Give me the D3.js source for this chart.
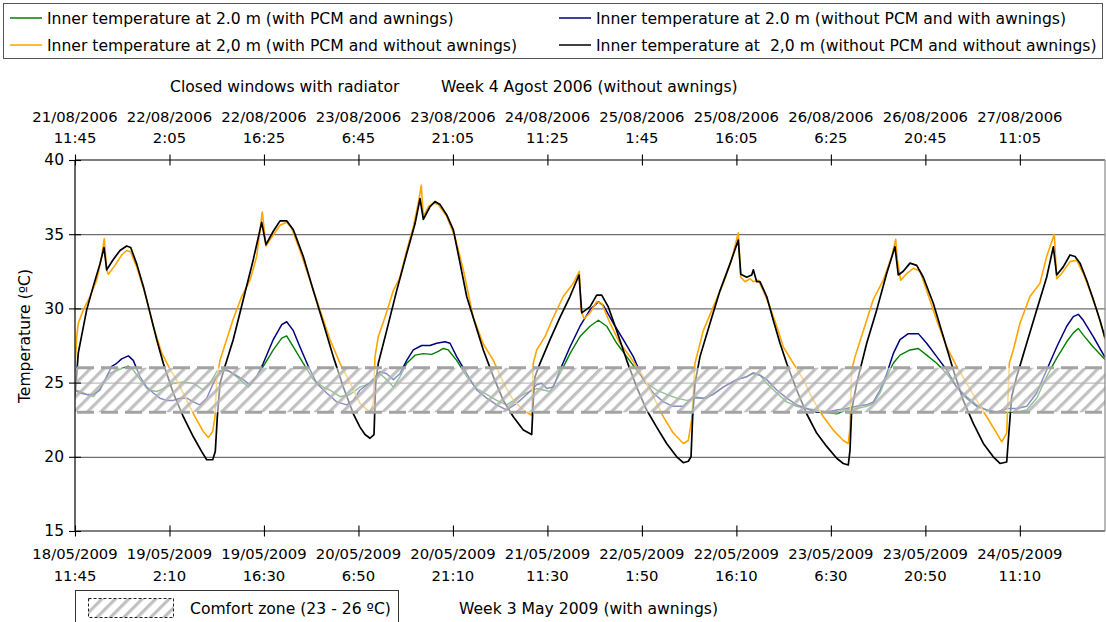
<!DOCTYPE html>
<html>
<head>
<meta charset="utf-8">
<script src="https://cdn.jsdelivr.net/npm/d3@7"></script>
<style>
  html, body { margin: 0; padding: 0; background: #fff; }
  svg { display: block; font-family: "DejaVu Sans", Verdana, sans-serif; }
</style>
</head>
<body>
<svg id="chart" width="1106" height="622"></svg>
<script>
// Time is in hours from the first sample; temperatures in ºC.

// Inner temperature at 2.0 m, with PCM and awnings
const pcmAwnings = [
  [0,24.5],[0.76,24.4],[1.77,24.2],[2.78,24.05],[3.79,24.6],[5.05,25.6],[6.07,25.75],[7.08,25.95],
  [8.09,26.1],[8.84,25.85],[9.86,25.2],[11.12,24.5],[12.39,24.4],[13.39,24.6],[14.91,24.95],[16.43,25.05],
  [17.95,24.95],[19.46,24.5],[20.48,24.95],[21.5,25.75],[22.5,25.85],[23.51,25.75],[25.03,25.2],[26.29,24.7],
  [27.56,25.4],[28.56,26.1],[30.08,27.2],[31.36,28.0],[32.11,28.15],[33.12,27.4],[34.63,26.3],[36.15,25.2],
  [37.67,24.7],[38.68,24.5],[40.2,24.05],[41.72,24.2],[43.23,24.7],[44.75,24.95],[46.27,25.6],[47.28,25.2],
  [48.29,24.7],[49.3,25.4],[50.32,26.3],[51.58,26.85],[52.84,26.95],[54.11,26.9],[55.11,27.1],[55.87,27.3],
  [56.63,27.2],[57.9,26.5],[59.42,25.4],[60.94,24.6],[62.45,24.2],[63.97,23.8],[65.49,23.5],[67.0,23.95],
  [68.52,24.3],[70.04,24.6],[71.04,24.5],[72.06,24.4],[73.57,25.6],[75.09,26.95],[76.61,28.1],[78.12,28.8],
  [79.39,29.2],[80.66,28.8],[82.18,27.65],[83.69,26.75],[85.2,25.85],[86.72,24.95],[88.24,24.5],[89.75,24.2],
  [91.28,23.95],[92.79,23.8],[94.31,23.95],[95.83,23.95],[97.34,24.4],[98.86,24.85],[100.38,25.2],[101.9,25.4],
  [102.9,25.6],[103.91,25.5],[104.93,24.95],[106.45,24.3],[107.96,23.7],[109.48,23.4],[110.99,23.25],[112.51,23.15],
  [114.03,23.0],[115.55,22.9],[117.07,23.15],[118.58,23.25],[120.1,23.4],[121.1,23.6],[122.12,24.3],[123.13,25.4],
  [124.13,26.3],[125.15,26.85],[126.67,27.2],[127.93,27.3],[129.2,26.85],[130.72,26.3],[132.23,25.6],[133.75,24.7],
  [135.27,24.05],[136.79,23.5],[138.3,23.15],[139.82,23.0],[141.34,23.0],[142.85,23.0],[144.37,23.15],[145.89,23.95],
  [147.4,25.4],[148.92,26.65],[150.44,27.75],[151.44,28.35],[152.2,28.65],[152.96,28.2],[154.47,27.4],[156.25,26.55]
];

// Inner temperature at 2,0 m, with PCM and without awnings
const pcmNoAwnings = [
  [0,26.1],[0.26,28.1],[0.5,29.0],[1.26,29.9],[2.28,30.8],[3.29,31.9],[4.05,33.5],[4.44,34.7],
  [4.81,32.6],[5.05,32.3],[6.07,32.9],[7.08,33.6],[7.84,33.9],[8.45,33.8],[9.36,32.8],[10.62,31.0],
  [11.88,28.8],[13.15,27.0],[14.41,25.9],[15.67,25.0],[16.94,23.8],[18.2,22.7],[19.46,21.7],[20.22,21.3],
  [20.89,21.7],[21.24,22.7],[21.5,25.2],[22.0,26.5],[23.01,27.9],[24.01,29.3],[25.29,30.8],[26.55,31.9],
  [27.56,33.5],[28.41,36.5],[28.97,34.2],[29.84,34.8],[31.1,35.6],[32.11,35.8],[32.87,35.4],[34.13,33.9],
  [35.65,31.9],[37.17,29.9],[38.68,27.9],[40.2,26.3],[41.72,25.0],[43.23,23.6],[44.75,23.0],[45.25,23.6],
  [45.51,26.75],[46.01,28.1],[47.03,29.4],[48.29,31.2],[49.3,32.1],[50.32,33.9],[51.32,35.5],[52.08,37.1],
  [52.53,38.3],[52.84,36.2],[53.6,36.85],[54.35,37.1],[55.11,37.0],[56.39,36.2],[57.65,34.8],[58.91,32.6],
  [60.42,29.4],[61.94,27.6],[63.46,26.5],[64.97,25.0],[66.49,23.8],[68.01,23.15],[69.28,22.8],[69.52,26.3],
  [70.04,27.2],[71.3,28.1],[72.56,29.4],[74.07,30.8],[75.59,31.7],[76.5,32.5],[76.76,29.9],[77.22,29.3],
  [78.12,29.7],[79.14,30.45],[79.9,30.35],[81.16,29.0],[82.68,27.65],[84.19,26.75],[86.21,25.4],[87.73,24.05],
  [89.25,22.7],[90.76,21.6],[92.28,20.9],[93.04,21.1],[93.55,22.5],[94.05,26.3],[95.31,28.5],[96.83,30.1],
  [98.35,31.7],[99.62,33.3],[100.62,35.1],[101.0,32.1],[101.64,31.8],[102.4,32.0],[102.9,31.8],[103.66,31.9],
  [104.41,31.2],[105.43,30.1],[106.45,28.8],[107.45,27.4],[108.97,26.3],[110.49,25.2],[112.0,23.8],[113.52,22.7],
  [115.03,21.8],[116.55,21.1],[117.31,20.9],[117.57,22.0],[117.82,25.85],[118.33,26.75],[119.59,28.5],[121.1,30.6],
  [122.62,31.9],[123.89,33.5],[124.5,34.65],[124.74,33.3],[125.25,31.9],[126.17,32.35],[127.17,32.7],[128.19,32.5],
  [129.2,31.2],[130.72,29.2],[132.23,27.4],[133.75,26.1],[135.27,24.95],[136.79,23.8],[138.3,22.7],[139.82,21.6],
  [140.58,21.0],[141.34,21.6],[141.73,26.3],[142.34,27.2],[143.35,29.0],[144.87,30.8],[146.39,31.7],[147.4,33.5],
  [148.56,35.0],[148.92,32.0],[149.68,32.35],[150.94,33.15],[151.95,33.25],[152.96,32.35],[153.97,31.2],[154.98,29.9],
  [155.99,28.4],[156.25,27.9]
];

// Inner temperature at 2.0 m, without PCM and with awnings
const noPcmAwnings = [
  [0,24.5],[0.76,24.3],[1.77,24.2],[2.78,24.2],[3.79,24.5],[4.81,25.4],[5.57,26.1],[6.33,26.3],
  [7.08,26.6],[8.09,26.8],[8.84,26.5],[9.86,25.4],[10.88,24.7],[11.88,24.3],[12.89,23.95],[13.91,23.8],
  [14.91,23.8],[15.93,23.95],[16.94,23.95],[17.95,23.7],[18.96,23.5],[19.98,23.95],[20.98,24.95],[22.0,25.75],
  [23.01,25.85],[24.01,25.6],[25.53,25.2],[26.55,24.85],[27.56,25.4],[28.56,26.3],[30.08,27.9],[31.36,28.9],
  [32.11,29.1],[33.12,28.5],[34.13,27.4],[35.39,26.1],[36.67,24.95],[38.18,24.3],[39.7,23.7],[41.22,23.5],
  [42.22,23.8],[43.23,24.5],[44.75,25.0],[46.27,25.75],[47.28,25.6],[48.29,25.2],[49.3,25.6],[50.32,26.5],
  [51.32,27.2],[52.59,27.5],[53.85,27.5],[54.87,27.65],[56.13,27.75],[56.89,27.65],[57.9,26.75],[59.42,25.6],
  [60.94,24.5],[62.45,23.95],[63.97,23.5],[65.49,23.15],[67.0,23.6],[68.52,24.2],[70.04,24.85],[70.8,24.95],
  [71.56,24.6],[72.56,24.7],[73.57,25.85],[75.09,27.4],[76.61,28.8],[78.12,29.9],[79.39,30.45],[80.14,30.2],
  [81.66,29.0],[83.18,27.9],[84.69,26.75],[86.21,25.2],[87.73,24.3],[89.25,23.7],[90.76,23.4],[92.28,23.4],
  [93.8,24.05],[95.31,23.95],[96.83,24.2],[98.35,24.7],[100.38,25.2],[101.9,25.4],[102.9,25.67],[103.91,25.5],
  [104.93,25.2],[106.45,24.5],[107.96,23.95],[109.48,23.5],[110.99,23.25],[112.51,23.0],[114.03,23.0],[115.55,23.15],
  [117.07,23.25],[118.58,23.4],[120.1,23.5],[121.1,23.7],[122.12,24.5],[123.13,25.6],[124.13,26.95],[125.15,27.9],
  [126.41,28.3],[127.93,28.3],[129.2,27.65],[130.72,26.75],[132.23,25.85],[133.75,24.7],[135.27,23.95],[136.79,23.4],
  [138.3,23.15],[139.82,23.0],[141.34,23.25],[142.85,23.25],[144.37,23.4],[145.89,24.3],[147.4,25.85],[148.92,27.4],
  [150.44,28.8],[151.44,29.45],[152.2,29.6],[152.96,29.2],[154.47,28.1],[156.25,26.7]
];

// Inner temperature at 2,0 m, without PCM and without awnings
const noPcmNoAwnings = [
  [0,24.05],[0.5,27.0],[1.77,29.9],[2.78,31.5],[3.79,33.0],[4.4,34.1],[4.81,32.6],[5.81,33.3],
  [6.83,33.9],[7.84,34.2],[8.45,34.1],[9.36,33.0],[10.36,31.5],[11.38,29.7],[12.39,27.9],[13.39,26.3],
  [14.91,24.3],[16.43,22.7],[17.95,21.35],[19.22,20.35],[19.98,19.8],[20.89,19.8],[21.28,20.35],[21.59,22.7],
  [22.0,24.95],[22.75,26.1],[24.01,27.9],[25.53,30.6],[27.05,33.3],[28.32,35.8],[28.97,34.3],[30.08,35.2],
  [31.1,35.9],[32.11,35.9],[33.12,35.3],[34.63,33.5],[36.15,31.2],[37.67,29.0],[39.18,26.75],[40.7,24.7],
  [42.22,22.9],[43.23,22.0],[43.99,21.5],[44.75,21.25],[45.36,21.5],[45.61,24.95],[46.01,26.3],[47.28,28.5],
  [48.8,31.2],[50.32,33.7],[51.58,35.7],[52.34,37.4],[52.84,36.0],[53.85,36.85],[54.61,37.2],[55.37,37.0],
  [56.39,36.3],[57.39,35.3],[58.41,33.05],[59.42,30.8],[60.68,29.0],[61.94,27.2],[63.46,25.4],[64.97,23.8],
  [66.49,22.7],[68.01,21.8],[69.28,21.5],[69.52,23.8],[69.78,25.4],[70.54,26.3],[72.06,27.9],[73.57,29.4],
  [75.09,30.8],[76.46,32.25],[76.87,29.7],[78.12,30.1],[79.14,30.9],[79.9,30.9],[80.9,30.1],[82.18,28.5],
  [83.69,26.5],[85.2,24.7],[86.72,23.15],[88.24,22.0],[89.75,20.9],[91.28,20.0],[92.28,19.6],[93.04,19.7],
  [93.45,20.0],[93.7,22.7],[94.05,24.95],[94.81,26.75],[96.33,29.0],[97.85,31.2],[99.36,33.0],[100.62,34.6],
  [101.0,32.3],[101.9,32.1],[102.66,32.25],[102.9,32.6],[103.41,31.8],[103.91,31.8],[104.93,30.8],[105.93,29.2],
  [106.95,27.65],[107.96,26.3],[109.48,24.5],[110.99,22.9],[112.51,21.6],[114.03,20.7],[115.55,19.9],[116.55,19.55],
  [117.31,19.45],[117.57,20.45],[117.82,23.15],[118.58,24.95],[120.1,27.65],[121.62,29.9],[123.13,32.35],[124.39,34.15],
  [124.89,32.25],[125.65,32.5],[126.67,33.05],[127.68,32.9],[128.69,32.1],[130.2,30.35],[131.72,28.1],[133.24,25.85],
  [134.75,23.8],[136.27,22.25],[137.79,20.9],[139.3,20.0],[140.32,19.55],[141.34,19.65],[141.58,21.1],[142.09,24.05],
  [142.85,25.4],[144.37,27.65],[145.89,29.9],[147.4,32.1],[148.41,34.15],[148.92,32.25],[149.92,32.8],[150.94,33.6],
  [151.7,33.5],[152.46,33.05],[153.47,31.9],[154.47,30.6],[155.49,29.2],[156.25,28.0]
];

// Category labels of the two time axes
const topDates = ["21/08/2006","22/08/2006","22/08/2006","23/08/2006","23/08/2006","24/08/2006",
                  "25/08/2006","25/08/2006","26/08/2006","26/08/2006","27/08/2006"];
const topTimes = ["11:45","2:05","16:25","6:45","21:05","11:25","1:45","16:05","6:25","20:45","11:05"];
const bottomDates = ["18/05/2009","19/05/2009","19/05/2009","20/05/2009","20/05/2009","21/05/2009",
                     "22/05/2009","22/05/2009","23/05/2009","23/05/2009","24/05/2009"];
const bottomTimes = ["11:45","2:10","16:30","6:50","21:10","11:30","1:50","16:10","6:30","20:50","11:10"];
const tempTicks = [15, 20, 25, 30, 35, 40];
const comfortZone = [23, 26];

const seriesNames = [
  "Inner temperature at 2.0 m (with PCM and awnings)",
  "Inner temperature at 2,0 m (with PCM and without awnings)",
  "Inner temperature at 2.0 m (without PCM and with awnings)",
  "Inner temperature at \u00a02,0 m (without PCM and without awnings)"
];

// ---------------------------------------------------------------------------
const svg = d3.select("#chart");
const tickStep = 14 + 20 / 60;                 // one tick every 14 h 20 min
const tickHours = topDates.map((_, i) => i * tickStep);

const x = d3.scaleLinear().domain([0, 156.25]).range([75, 1105]);
const y = d3.scaleLinear().domain([15, 40]).range([531, 160]);

const defs = svg.append("defs");
defs.append("clipPath").attr("id", "plotClip")
  .append("rect").attr("x", x(0)).attr("y", y(40))
  .attr("width", x(156.25) - x(0)).attr("height", y(15) - y(40));

// diagonal hatch for the comfort band
const hatch = defs.append("pattern").attr("id", "hatch")
  .attr("patternUnits", "userSpaceOnUse").attr("width", 9.5).attr("height", 9.5)
  .attr("patternTransform", "rotate(45)");
hatch.append("rect").attr("width", 9.5).attr("height", 9.5).attr("fill", "#fff").attr("fill-opacity", 0.55);
hatch.append("rect").attr("width", 3.2).attr("height", 9.5).attr("fill", "#b2b2b2").attr("fill-opacity", 0.8);
defs.append("filter").attr("id", "soft").append("feGaussianBlur").attr("stdDeviation", 0.55);

// gridlines
svg.append("g").selectAll("line").data(tempTicks.filter(t => t > 15 && t < 40)).join("line")
  .attr("x1", x(0)).attr("x2", x(156.25))
  .attr("y1", d => y(d) + 0.5).attr("y2", d => y(d) + 0.5)
  .attr("stroke", "#4a4a4a").attr("stroke-width", 1);

// data lines
const line = d3.line().x(d => x(d[0])).y(d => y(d[1]));
const plot = svg.append("g").attr("clip-path", "url(#plotClip)");
const drawn = [
  { data: pcmAwnings, color: "#008000", w: 1.4 },
  { data: noPcmAwnings, color: "#000080", w: 1.5 },
  { data: pcmNoAwnings, color: "#ffa500", w: 1.6 },
  { data: noPcmNoAwnings, color: "#000000", w: 1.7 }
];
drawn.forEach(s => {
  plot.append("path").datum(s.data).attr("d", line)
    .attr("fill", "none").attr("stroke", s.color).attr("stroke-width", s.w)
    .attr("stroke-linejoin", "round");
});

// comfort band drawn over the lines
const band = svg.append("g");
band.append("rect")
  .attr("x", x(0)).attr("width", x(156.25) - x(0))
  .attr("y", y(comfortZone[1])).attr("height", y(comfortZone[0]) - y(comfortZone[1]))
  .attr("fill", "url(#hatch)").attr("filter", "url(#soft)");
band.selectAll("line").data(comfortZone).join("line")
  .attr("x1", x(0) + 2).attr("x2", x(156.25))
  .attr("y1", d => y(d)).attr("y2", d => y(d))
  .attr("stroke", "#a3a3a3").attr("stroke-width", 3).attr("stroke-dasharray", "17,7");

// axis frame
const frame = svg.append("g").attr("stroke", "#000").attr("stroke-width", 1.2);
frame.append("line").attr("x1", x(0)).attr("x2", x(156.25)).attr("y1", y(40)).attr("y2", y(40));
frame.append("line").attr("x1", x(0)).attr("x2", x(156.25)).attr("y1", y(15)).attr("y2", y(15));
frame.append("line").attr("x1", x(0)).attr("x2", x(0)).attr("y1", y(40)).attr("y2", y(15));
svg.append("line").attr("x1", x(156.25)).attr("x2", x(156.25)).attr("y1", y(40)).attr("y2", y(15))
  .attr("stroke", "#888").attr("stroke-width", 1.2);

// y axis
const yAxis = svg.append("g").attr("transform", `translate(${x(0)},0)`)
  .call(d3.axisLeft(y).tickValues(tempTicks).tickSize(6).tickPadding(5).tickFormat(d3.format("d")));
yAxis.select(".domain").remove();
yAxis.selectAll(".tick line").attr("x1", -6).attr("x2", 6).attr("stroke", "#000").attr("stroke-width", 1.1);
yAxis.selectAll(".tick text").attr("font-size", 15.5).attr("font-family", "DejaVu Sans, Verdana, sans-serif")
  .attr("fill", "#000").attr("x", -11);

// top (2006) and bottom (2009) time axes
const xTop = svg.append("g").attr("transform", `translate(0,${y(40)})`)
  .call(d3.axisTop(x).tickValues(tickHours).tickFormat(() => "").tickSize(5.5));
xTop.select(".domain").remove();
xTop.selectAll(".tick line").attr("y1", -5.5).attr("y2", 5.5).attr("stroke", "#000").attr("stroke-width", 1.1);

const xBottom = svg.append("g").attr("transform", `translate(0,${y(15)})`)
  .call(d3.axisBottom(x).tickValues(tickHours).tickFormat(() => "").tickSize(5.5));
xBottom.select(".domain").remove();
xBottom.selectAll(".tick line").attr("y1", -5.5).attr("y2", 5.5).attr("stroke", "#000").attr("stroke-width", 1.1);

const labels = svg.append("g").attr("font-size", 14.8).attr("fill", "#000").attr("text-anchor", "middle");
function tickLabels(dates, times, yDate, yTime) {
  labels.append("g").selectAll("text").data(dates).join("text")
    .attr("x", (d, i) => x(tickHours[i])).attr("y", yDate).text(d => d);
  labels.append("g").selectAll("text").data(times).join("text")
    .attr("x", (d, i) => x(tickHours[i])).attr("y", yTime).text(d => d);
}
tickLabels(topDates, topTimes, 121.5, 142.5);
tickLabels(bottomDates, bottomTimes, 558.5, 580.5);

// titles
const titles = svg.append("g").attr("font-size", 15.6).attr("fill", "#000");
titles.append("text").attr("x", 170).attr("y", 91.5).text("Closed windows with radiator");
titles.append("text").attr("x", 441).attr("y", 91.5).text("Week 4 Agost 2006 (without awnings)");
titles.append("text").attr("x", 459).attr("y", 613.5).text("Week 3 May 2009 (with awnings)");
svg.append("text").attr("transform", "translate(30,336) rotate(-90)")
  .attr("text-anchor", "middle").attr("font-size", 15.6).attr("fill", "#000")
  .text("Temperature (\u00baC)");

// series legend
const legend = svg.append("g");
legend.append("rect").attr("x", 3.5).attr("y", 3.5).attr("width", 1099).attr("height", 55)
  .attr("fill", "#fff").attr("stroke", "#555").attr("stroke-width", 1);
const legendSlots = [
  { name: seriesNames[0], color: "#008000", lx: 10, ty: 18 },
  { name: seriesNames[1], color: "#ffa500", lx: 10, ty: 45 },
  { name: seriesNames[2], color: "#000080", lx: 559, ty: 18 },
  { name: seriesNames[3], color: "#000000", lx: 559, ty: 45 }
];
legendSlots.forEach(s => {
  legend.append("line").attr("x1", s.lx).attr("x2", s.lx + 32).attr("y1", s.ty).attr("y2", s.ty)
    .attr("stroke", s.color).attr("stroke-width", 1.5);
  legend.append("text").attr("x", s.lx + 37).attr("y", s.ty + 5.5).attr("font-size", 15.6)
    .attr("fill", "#000").text(s.name);
});

// comfort zone legend
const cz = svg.append("g");
cz.append("rect").attr("x", 75.5).attr("y", 590.5).attr("width", 323).attr("height", 40)
  .attr("fill", "#fff").attr("stroke", "#333").attr("stroke-width", 1);
cz.append("rect").attr("x", 88.5).attr("y", 598.5).attr("width", 85).attr("height", 19)
  .attr("fill", "url(#hatch)").attr("stroke", "#222").attr("stroke-width", 1)
  .attr("stroke-dasharray", "3,2");
cz.append("text").attr("x", 190).attr("y", 613.5).attr("font-size", 15.6).attr("fill", "#000")
  .text("Comfort zone (23 - 26 \u00baC)");
</script>
</body>
</html>
